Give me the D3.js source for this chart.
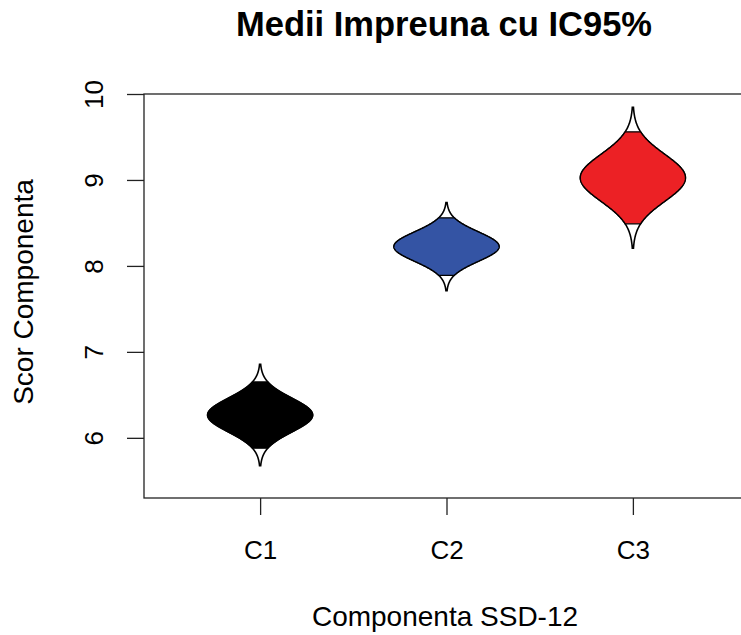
<!DOCTYPE html>
<html>
<head>
<meta charset="utf-8">
<script src="https://cdn.jsdelivr.net/npm/d3@7/dist/d3.min.js"></script>
<style>
  html, body { margin: 0; padding: 0; background: #fff; }
  svg { display: block; }
  text { font-family: "Liberation Sans", Arial, Helvetica, sans-serif; fill: #000; }
</style>
</head>
<body>
<svg id="chart" width="741" height="635"></svg>
<script>
// Component means with 95% confidence interval bounds
const categories = ["C1", "C2", "C3"];
const means  = [6.265, 8.225, 9.025];
const ciLow  = [5.88, 7.89, 8.49];
const ciHigh = [6.65, 8.56, 9.56];
const fills  = ["#000000", "#3454A4", "#EC2125"];
const yTicks = [6, 7, 8, 9, 10];

const svg = d3.select("#chart");
const W = 741, H = 635;
svg.append("rect").attr("width", W).attr("height", H).attr("fill", "#fff");

const plot = { left: 144, right: 749, top: 94, bottom: 498 };

const x = d3.scaleLinear().domain([0.377, 3.623]).range([plot.left, plot.right]);
const y = d3.scaleLinear().domain([5.3, 10]).range([plot.bottom, plot.top]);

// Half-width of each shape at its peak, in category units
const halfW = 0.282;
const Z_TAIL = 3, Z_CI = 1.96;

function shapePoints(zMax, n) {
  return d3.range(n + 1).map(k => -zMax + (2 * zMax) * k / n);
}

categories.forEach((c, i) => {
  const m = means[i];
  const se = (ciHigh[i] - ciLow[i]) / (2 * Z_CI);
  const dens = z => Math.exp(-z * z / 2); // normal density relative to its peak
  const area = d3.area()
    .x0(z => x(i + 1) - (x(i + 1 + halfW) - x(i + 1)) * dens(z))
    .x1(z => x(i + 1) + (x(i + 1 + halfW) - x(i + 1)) * dens(z))
    .y(z => y(m + z * se));
  const g = svg.append("g");
  // full density outline (tails)
  g.append("path")
    .attr("d", area(shapePoints(Z_TAIL, 300)))
    .attr("fill", "#fff")
    .attr("stroke", "#000")
    .attr("stroke-width", 1.6);
  // confidence-interval region
  g.append("path")
    .attr("d", area(shapePoints(Z_CI, 200)))
    .attr("fill", fills[i])
    .attr("stroke", "#000")
    .attr("stroke-width", 1.3);
});

// Plot frame
svg.append("rect")
  .attr("x", plot.left).attr("y", plot.top)
  .attr("width", plot.right - plot.left).attr("height", plot.bottom - plot.top)
  .attr("fill", "none").attr("stroke", "#222").attr("stroke-width", 1.3);

// Y axis
const yAxis = d3.axisLeft(y).tickValues(yTicks).tickSize(17).tickFormat(d3.format("d"));
const ga = svg.append("g").attr("transform", `translate(${plot.left},0)`).call(yAxis);
ga.select(".domain").remove();
ga.selectAll(".tick line").attr("stroke", "#222").attr("stroke-width", 1.3);
ga.selectAll(".tick text")
  .attr("font-size", 26)
  .attr("x", null).attr("dy", null)
  .attr("text-anchor", "middle")
  .attr("transform", "translate(-41,0) rotate(-90)");

// X axis
const xAxis = d3.axisBottom(x).tickValues([1, 2, 3]).tickSize(17).tickFormat((d, k) => categories[k]);
const gx = svg.append("g").attr("transform", `translate(0,${plot.bottom})`).call(xAxis);
gx.select(".domain").remove();
gx.selectAll(".tick line").attr("stroke", "#222").attr("stroke-width", 1.3);
gx.selectAll(".tick text")
  .attr("font-size", 26)
  .attr("y", 61).attr("dy", null);

// Titles
svg.append("text")
  .attr("x", 444).attr("y", 36)
  .attr("text-anchor", "middle")
  .attr("font-size", 34.5).attr("font-weight", "bold")
  .text("Medii Impreuna cu IC95%");

svg.append("text")
  .attr("x", 445).attr("y", 626)
  .attr("text-anchor", "middle")
  .attr("font-size", 28)
  .text("Componenta SSD-12");

svg.append("text")
  .attr("transform", "translate(33,292) rotate(-90)")
  .attr("text-anchor", "middle")
  .attr("font-size", 28)
  .text("Scor Componenta");
</script>
</body>
</html>
